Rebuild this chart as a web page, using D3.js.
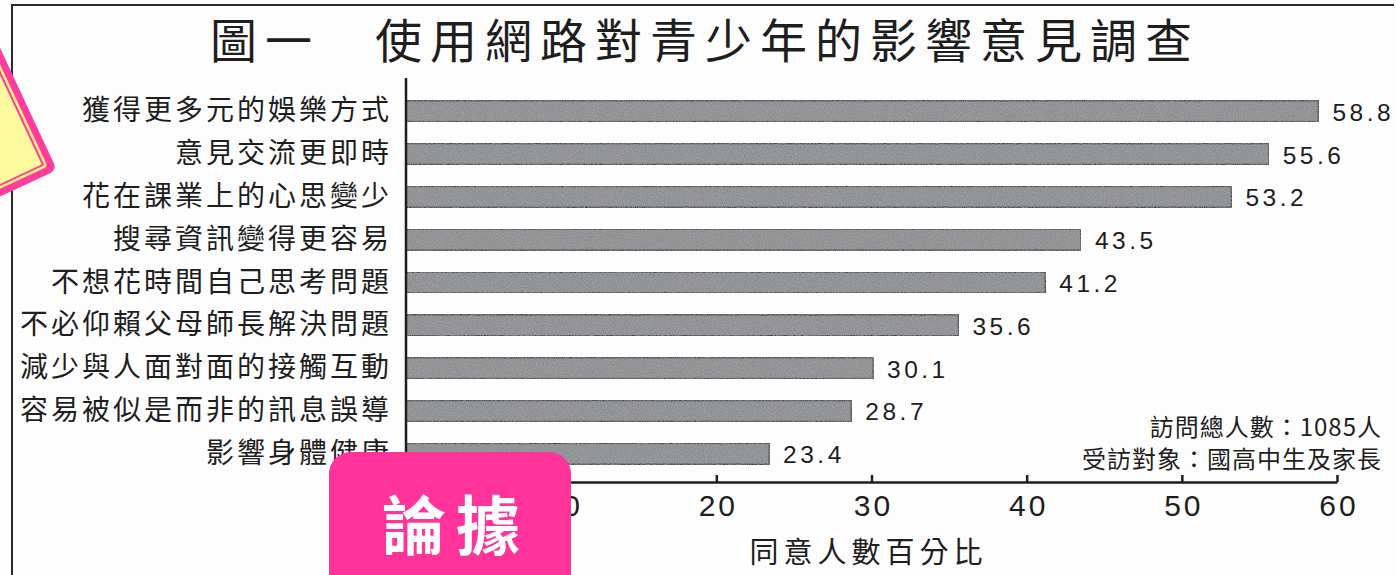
<!DOCTYPE html>
<html>
<head>
<meta charset="utf-8">
<script src="https://cdn.jsdelivr.net/npm/d3@7"></script>
<style>
  html, body { margin: 0; padding: 0; background: #fdfdfd; }
  svg { display: block; }
</style>
</head>
<body>
<svg id="chart" width="1396" height="575"></svg>
<script>
// Survey: effects of Internet use on teenagers (percent agreeing)
const categories = [
  "獲得更多元的娛樂方式",
  "意見交流更即時",
  "花在課業上的心思變少",
  "搜尋資訊變得更容易",
  "不想花時間自己思考問題",
  "不必仰賴父母師長解決問題",
  "減少與人面對面的接觸互動",
  "容易被似是而非的訊息誤導",
  "影響身體健康"
];
const values = [58.8, 55.6, 53.2, 43.5, 41.2, 35.6, 30.1, 28.7, 23.4];
const tickValues = [0, 10, 20, 30, 40, 50, 60];
const titleText = "圖一　使用網路對青少年的影響意見調查";
const axisTitle = "同意人數百分比";
const notes = ["訪問總人數：1085人", "受訪對象：國高中生及家長"];
const badgeText = "論據";

const svg = d3.select("#chart");
const CJK = "'Noto Sans CJK TC', 'Noto Sans CJK SC', sans-serif";
const LATIN = "'Liberation Sans', Arial, sans-serif";
const ink = "#1e1e1e";

const x = d3.scaleLinear().domain([0, 60]).range([406, 1337]);
const y = d3.scaleBand().domain(categories).range([90, 475])
  .paddingInner(0.51).paddingOuter(0.25);

// speckled texture for the bars
const defs = svg.append("defs");
const grain = defs.append("filter").attr("id", "grain")
  .attr("x", 0).attr("y", 0).attr("width", 1).attr("height", 1);
grain.append("feTurbulence").attr("type", "fractalNoise")
  .attr("baseFrequency", 0.9).attr("numOctaves", 2).attr("seed", 3).attr("result", "noise");
grain.append("feColorMatrix").attr("in", "noise").attr("type", "matrix")
  .attr("values", "0 0 0 0 0.42  0 0 0 0 0.42  0 0 0 0 0.44  0 0 0 1.2 -0.35")
  .attr("result", "spots");
grain.append("feComposite").attr("in", "spots").attr("in2", "SourceGraphic")
  .attr("operator", "in").attr("result", "spotsIn");
grain.append("feMerge").selectAll("feMergeNode")
  .data(["SourceGraphic", "spotsIn"]).join("feMergeNode").attr("in", d => d);

// page frame
svg.append("path")
  .attr("d", "M12,575 L12,5 L1394,5")
  .attr("fill", "none").attr("stroke", "#2a2a2a").attr("stroke-width", 2);

// title
svg.append("text")
  .attr("x", 210).attr("y", 37)
  .attr("dominant-baseline", "central")
  .attr("font-family", CJK).attr("font-size", 47)
  .attr("letter-spacing", 8)
  .attr("fill", ink)
  .text(titleText);

// bars
svg.append("g").selectAll("rect")
  .data(values)
  .join("rect")
  .attr("x", x(0))
  .attr("y", (d, i) => y(categories[i]))
  .attr("width", d => x(d) - x(0))
  .attr("height", y.bandwidth())
  .attr("fill", "#898b8d")
  .attr("stroke", "#3e4042")
  .attr("stroke-width", 1.6)
  .attr("filter", "url(#grain)");

// category labels
const labelSpacing = 3;
svg.append("g").selectAll("text")
  .data(categories)
  .join("text")
  .attr("x", 389 + labelSpacing)
  .attr("y", d => y(d) + y.bandwidth() / 2 - 3)
  .attr("text-anchor", "end")
  .attr("dominant-baseline", "central")
  .attr("font-family", CJK).attr("font-size", 28)
  .attr("letter-spacing", labelSpacing)
  .attr("fill", ink)
  .text(d => d);

// value labels
svg.append("g").selectAll("text")
  .data(values)
  .join("text")
  .attr("x", d => x(d) + 14)
  .attr("y", (d, i) => y(categories[i]) + y.bandwidth() / 2 + 1)
  .attr("dominant-baseline", "central")
  .attr("font-family", LATIN).attr("font-size", 24.5)
  .attr("letter-spacing", 3.5)
  .attr("fill", ink)
  .text(d => d.toFixed(1));

// x axis with upward ticks; the zero label sits under the badge
const axisY = 482;
const xAxis = d3.axisBottom(x)
  .tickValues(tickValues)
  .tickFormat(d => d === 0 ? "" : d3.format("d")(d))
  .tickSizeInner(-7)
  .tickSizeOuter(0)
  .tickPadding(13);
const gx = svg.append("g").attr("transform", `translate(0,${axisY})`).call(xAxis);
gx.select(".domain").attr("stroke", ink).attr("stroke-width", 2.5);
gx.selectAll(".tick line").attr("stroke", ink).attr("stroke-width", 2.5);
gx.selectAll(".tick text")
  .attr("font-family", LATIN).attr("font-size", 30)
  .attr("letter-spacing", 3).attr("dx", 1.5)
  .attr("fill", ink);

// y axis line
svg.append("line")
  .attr("x1", x(0)).attr("x2", x(0))
  .attr("y1", 78).attr("y2", axisY + 1.25)
  .attr("stroke", ink).attr("stroke-width", 2.5);

// x axis title
svg.append("text")
  .attr("x", 866).attr("y", 550)
  .attr("text-anchor", "middle").attr("dominant-baseline", "central")
  .attr("dx", 2.5)
  .attr("font-family", CJK).attr("font-size", 29)
  .attr("letter-spacing", 5)
  .attr("fill", ink)
  .text(axisTitle);

// survey notes
svg.append("g").selectAll("text")
  .data(notes)
  .join("text")
  .attr("x", 1382)
  .attr("y", (d, i) => 425 + i * 32)
  .attr("text-anchor", "end").attr("dominant-baseline", "central")
  .attr("font-family", CJK).attr("font-size", 24)
  .attr("letter-spacing", 1)
  .attr("fill", ink)
  .text(d => d);

// pink badge
const badge = svg.append("g");
badge.append("rect")
  .attr("x", 329).attr("y", 452)
  .attr("width", 242).attr("height", 160)
  .attr("rx", 22)
  .attr("fill", "#ff3399");
badge.append("text")
  .attr("x", 451 + 5).attr("y", 521)
  .attr("text-anchor", "middle").attr("dominant-baseline", "central")
  .attr("font-family", CJK).attr("font-size", 64).attr("font-weight", 700)
  .attr("letter-spacing", 10)
  .attr("fill", "#ffffff")
  .text(badgeText);

// sticky note on the left edge
const note = svg.append("g").attr("transform", "translate(57,170) rotate(-25)");
const S = 165;
const layers = [
  { inset: 0, fill: "#ff3d9e" },
  { inset: 7, fill: "#fff27c" },
  { inset: 9.5, fill: "#ff3d9e" },
  { inset: 11.5, fill: "#fdfa9e" }
];
note.selectAll("rect")
  .data(layers)
  .join("rect")
  .attr("x", d => -S + d.inset)
  .attr("y", d => -S + d.inset)
  .attr("width", d => S - 2 * d.inset)
  .attr("height", d => S - 2 * d.inset)
  .attr("rx", d => Math.max(1, 7 - d.inset * 0.5))
  .attr("fill", d => d.fill);
</script>
</body>
</html>
